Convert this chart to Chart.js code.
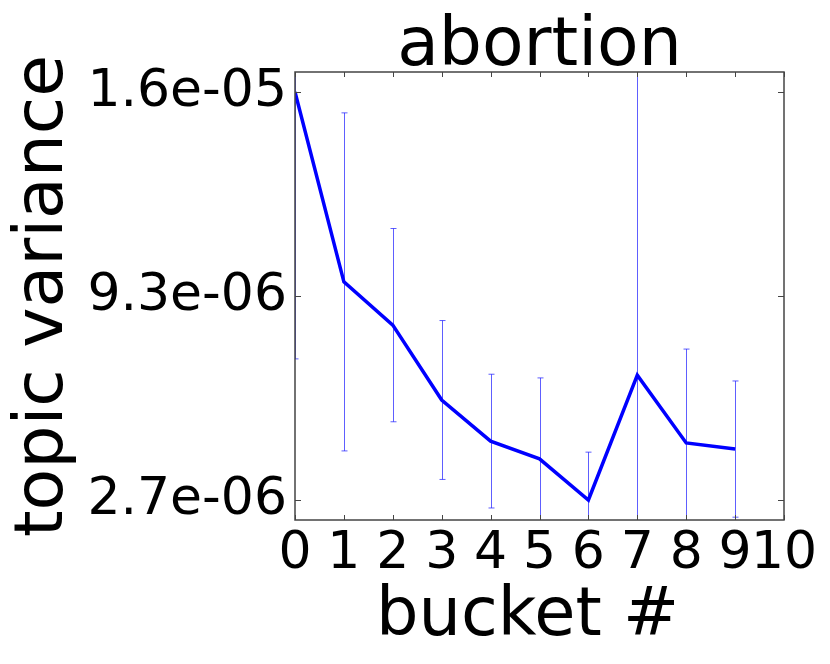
<!DOCTYPE html>
<html>
<head>
<meta charset="utf-8">
<script src="https://cdn.jsdelivr.net/npm/chart.js@4.4.1/dist/chart.umd.min.js"></script>
<style>
  html, body { margin: 0; padding: 0; background: #fff; }
  #wrap { width: 830px; height: 664px; }
</style>
</head>
<body>
<div id="wrap"><canvas id="grafica" width="830" height="664"></canvas></div>
<script>
// Datos
const buckets = [0, 1, 2, 3, 4, 5, 6, 7, 8, 9];
const varianza = [1.60e-5, 9.81e-6, 8.40e-6, 5.96e-6, 4.62e-6, 4.04e-6, 2.70e-6, 6.77e-6, 4.56e-6, 4.36e-6];
const errores = [8.7e-6, 5.51e-6, 3.15e-6, 2.59e-6, 2.18e-6, 2.64e-6, 1.56e-6, 1.1e-5, 3.06e-6, 2.22e-6];
const yTicks = [2.7e-6, 9.35e-6, 1.6e-5];
const yTickLabels = ['2.7e-06', '9.3e-06', '1.6e-05'];
const xTicks = [0, 1, 2, 3, 4, 5, 6, 7, 8, 9, 10];
const xTitulo = 'bucket #';

const fuente = 'DejaVu Sans';

// Barras de error + marco con ticks hacia adentro
const extras = {
    id: 'extras',
    beforeDatasetsDraw(chart) {
        const ctx = chart.ctx;
        const area = chart.chartArea;
        const x = chart.scales.x, y = chart.scales.y;
        ctx.save();
        ctx.beginPath();
        ctx.rect(area.left, area.top, area.right - area.left, area.bottom - area.top);
        ctx.clip();
        ctx.strokeStyle = 'rgba(40, 40, 255, 0.75)';
        ctx.lineWidth = 1;
        buckets.forEach((b, i) => {
            const px = Math.round(x.getPixelForValue(b)) + 0.5;
            const top = y.getPixelForValue(varianza[i] + errores[i]);
            const bot = y.getPixelForValue(varianza[i] - errores[i]);
            ctx.beginPath();
            ctx.moveTo(px, top); ctx.lineTo(px, bot);
            ctx.moveTo(px - 3, top); ctx.lineTo(px + 3, top);
            ctx.moveTo(px - 3, bot); ctx.lineTo(px + 3, bot);
            ctx.stroke();
        });
        ctx.restore();
    },
    afterDraw(chart) {
        const ctx = chart.ctx;
        const a = chart.chartArea;
        const x = chart.scales.x, y = chart.scales.y;
        ctx.save();
        ctx.strokeStyle = '#444';
        ctx.lineWidth = 1;
        ctx.beginPath();
        xTicks.forEach(t => {
            const px = Math.round(x.getPixelForValue(t)) + 0.5;
            ctx.moveTo(px, a.bottom); ctx.lineTo(px, a.bottom - 5);
            ctx.moveTo(px, a.top); ctx.lineTo(px, a.top + 5);
        });
        yTicks.forEach(t => {
            const py = Math.round(y.getPixelForValue(t)) + 0.5;
            ctx.moveTo(a.left, py); ctx.lineTo(a.left + 6, py);
            ctx.moveTo(a.right, py); ctx.lineTo(a.right - 6, py);
        });
        ctx.stroke();
        ctx.lineWidth = 1.5;
        ctx.strokeRect(a.left, a.top, a.right - a.left, a.bottom - a.top);

        // título del eje x
        ctx.fillStyle = '#000';
        ctx.font = '67px "' + fuente + '"';
        ctx.textAlign = 'center';
        ctx.textBaseline = 'alphabetic';
        ctx.fillText(xTitulo, (a.left + a.right) / 2 - 12, 635);
        ctx.restore();
    }
};

new Chart(document.getElementById('grafica'), {
    type: 'line',
    data: {
        datasets: [{
            label: 'abortion',
            data: buckets.map((b, i) => ({ x: b, y: varianza[i] })),
            borderColor: '#0000ff',
            borderWidth: 3.5,
            pointRadius: 0,
            tension: 0,
            fill: false
        }]
    },
    options: {
        responsive: false,
        animation: false,
        layout: { padding: { left: 0, right: 46, top: 0, bottom: 0 } },
        plugins: {
            legend: { display: false },
            tooltip: { enabled: false },
            title: {
                display: true,
                text: 'abortion',
                fullSize: false,
                color: '#000',
                font: { family: fuente, size: 68, weight: 'normal', lineHeight: 0.7 },
                padding: { top: 23.4, bottom: 1 }
            }
        },
        scales: {
            x: {
                type: 'linear',
                min: 0,
                max: 10,
                afterBuildTicks: s => { s.ticks = xTicks.map(v => ({ value: v })); },
                afterFit: s => { s.height = 144; },
                grid: { display: false, drawTicks: false },
                border: { display: false },
                ticks: {
                    autoSkip: false,
                    maxRotation: 0,
                    minRotation: 0,
                    padding: 3,
                    color: '#000',
                    font: { family: fuente, size: 52 },
                    callback: v => String(v)
                },
                title: { display: false }
            },
            y: {
                type: 'linear',
                min: 2.048e-6,
                max: 1.6652e-5,
                afterBuildTicks: s => { s.ticks = yTicks.map(v => ({ value: v })); },
                afterFit: s => { s.width = 295; },
                grid: { display: false, drawTicks: false },
                border: { display: false },
                ticks: {
                    padding: 8,
                    color: '#000',
                    font: { family: fuente, size: 52 },
                    callback: (v, i) => yTickLabels[i]
                },
                title: {
                    display: true,
                    text: 'topic variance',
                    color: '#000',
                    font: { family: fuente, size: 68 },
                    padding: { top: 4, bottom: 4 }
                }
            }
        }
    },
    plugins: [extras]
});
</script>
</body>
</html>
